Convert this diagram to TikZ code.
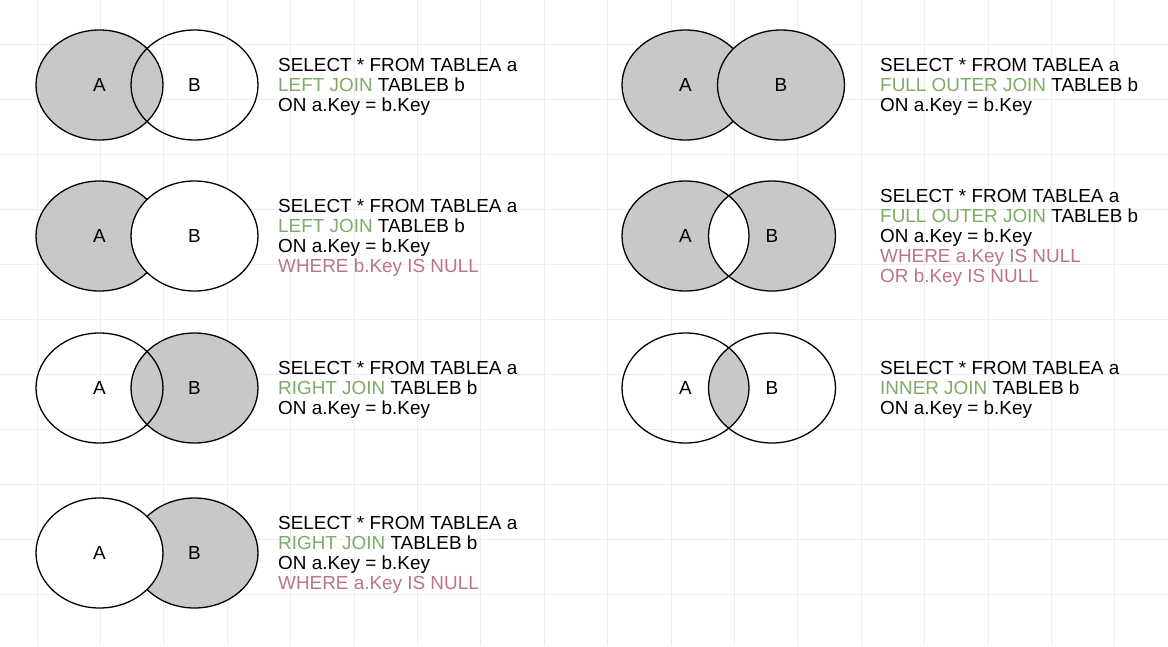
\documentclass[tikz,border=0pt]{standalone}
\usepackage{fontspec}
\setmainfont{Liberation Sans}
\usetikzlibrary{shapes.geometric}
\definecolor{joingreen}{RGB}{125,172,105}
\definecolor{nullpink}{RGB}{188,116,136}
\definecolor{setgrey}{RGB}{200,200,200}
\definecolor{gridgrey}{RGB}{238,238,238}

\begin{document}
\begin{tikzpicture}[x=1pt, y=-1pt, font=\fontsize{18.9}{20}\selectfont]
  % Define styles
  \tikzstyle{setshape} = [ellipse, minimum width=127pt, minimum height=110pt, inner sep=0pt, draw=black, line width=1.3pt]
  \tikzstyle{shaded} = [fill=setgrey]
  \tikzstyle{blank} = [fill=white]
  \tikzstyle{query} = [anchor=west, align=left, inner sep=0pt, yshift=-2pt]
  \tikzstyle{setarea} = [x radius=63.5pt, y radius=55pt]

  % Background grid
  \useasboundingbox (0,0) rectangle (1168,646);
  \fill[white] (0,0) rectangle (1168,646);
  \foreach \gx in {0,...,17}
    \draw[gridgrey, line width=0.9pt] (37+63.4*\gx,0) -- (37+63.4*\gx,646);
  \foreach \gy in {0,...,10}
    \draw[gridgrey, line width=0.9pt] (0,44+55*\gy) -- (1168,44+55*\gy);

  % Left join
  \node [setshape, shaded] (ljA) at (99.5,85) {A};
  \node [setshape] (ljB) at (194.5,85) {B};
  \node [query] (ljQuery) at (278,85) {SELECT * FROM TABLEA a\\{\color{joingreen}LEFT JOIN} TABLEB b\\ON a.Key = b.Key};

  % Left join without B
  \node [setshape, shaded] (lxA) at (99.5,236) {A};
  \node [setshape, blank] (lxB) at (194.5,236) {B};
  \node [query] (lxQuery) at (278,236) {SELECT * FROM TABLEA a\\{\color{joingreen}LEFT JOIN} TABLEB b\\ON a.Key = b.Key\\{\color{nullpink}WHERE b.Key IS NULL}};

  % Right join
  \fill [setgrey] (194.5,388) ellipse [setarea];
  \node [setshape] (rjA) at (99.5,388) {A};
  \node [setshape] (rjB) at (194.5,388) {B};
  \node [query] (rjQuery) at (278,388) {SELECT * FROM TABLEA a\\{\color{joingreen}RIGHT JOIN} TABLEB b\\ON a.Key = b.Key};

  % Right join without A
  \node [setshape, shaded] (rxB) at (194.5,553) {B};
  \node [setshape, blank] (rxA) at (99.5,553) {A};
  \node [query] (rxQuery) at (278,553) {SELECT * FROM TABLEA a\\{\color{joingreen}RIGHT JOIN} TABLEB b\\ON a.Key = b.Key\\{\color{nullpink}WHERE a.Key IS NULL}};

  % Full outer join
  \node [setshape, shaded] (foA) at (685.5,85) {A};
  \node [setshape, shaded] (foB) at (781,85) {B};
  \node [query] (foQuery) at (880,85) {SELECT * FROM TABLEA a\\{\color{joingreen}FULL OUTER JOIN} TABLEB b\\ON a.Key = b.Key};

  % Full outer join without the overlap
  \fill [setgrey] (685.5,236) ellipse [setarea] (772,236) ellipse [setarea];
  \begin{scope}
    \clip (685.5,236) ellipse [setarea];
    \fill [white] (772,236) ellipse [setarea];
  \end{scope}
  \node [setshape] (fxA) at (685.5,236) {A};
  \node [setshape] (fxB) at (772,236) {B};
  \node [query] (fxQuery) at (880,236) {SELECT * FROM TABLEA a\\{\color{joingreen}FULL OUTER JOIN} TABLEB b\\ON a.Key = b.Key\\{\color{nullpink}WHERE a.Key IS NULL}\\{\color{nullpink}OR b.Key IS NULL}};

  % Inner join
  \begin{scope}
    \clip (685.5,388) ellipse [setarea];
    \fill [setgrey] (772,388) ellipse [setarea];
  \end{scope}
  \node [setshape] (ijA) at (685.5,388) {A};
  \node [setshape] (ijB) at (772,388) {B};
  \node [query] (ijQuery) at (880,388) {SELECT * FROM TABLEA a\\{\color{joingreen}INNER JOIN} TABLEB b\\ON a.Key = b.Key};
\end{tikzpicture}
\end{document}
